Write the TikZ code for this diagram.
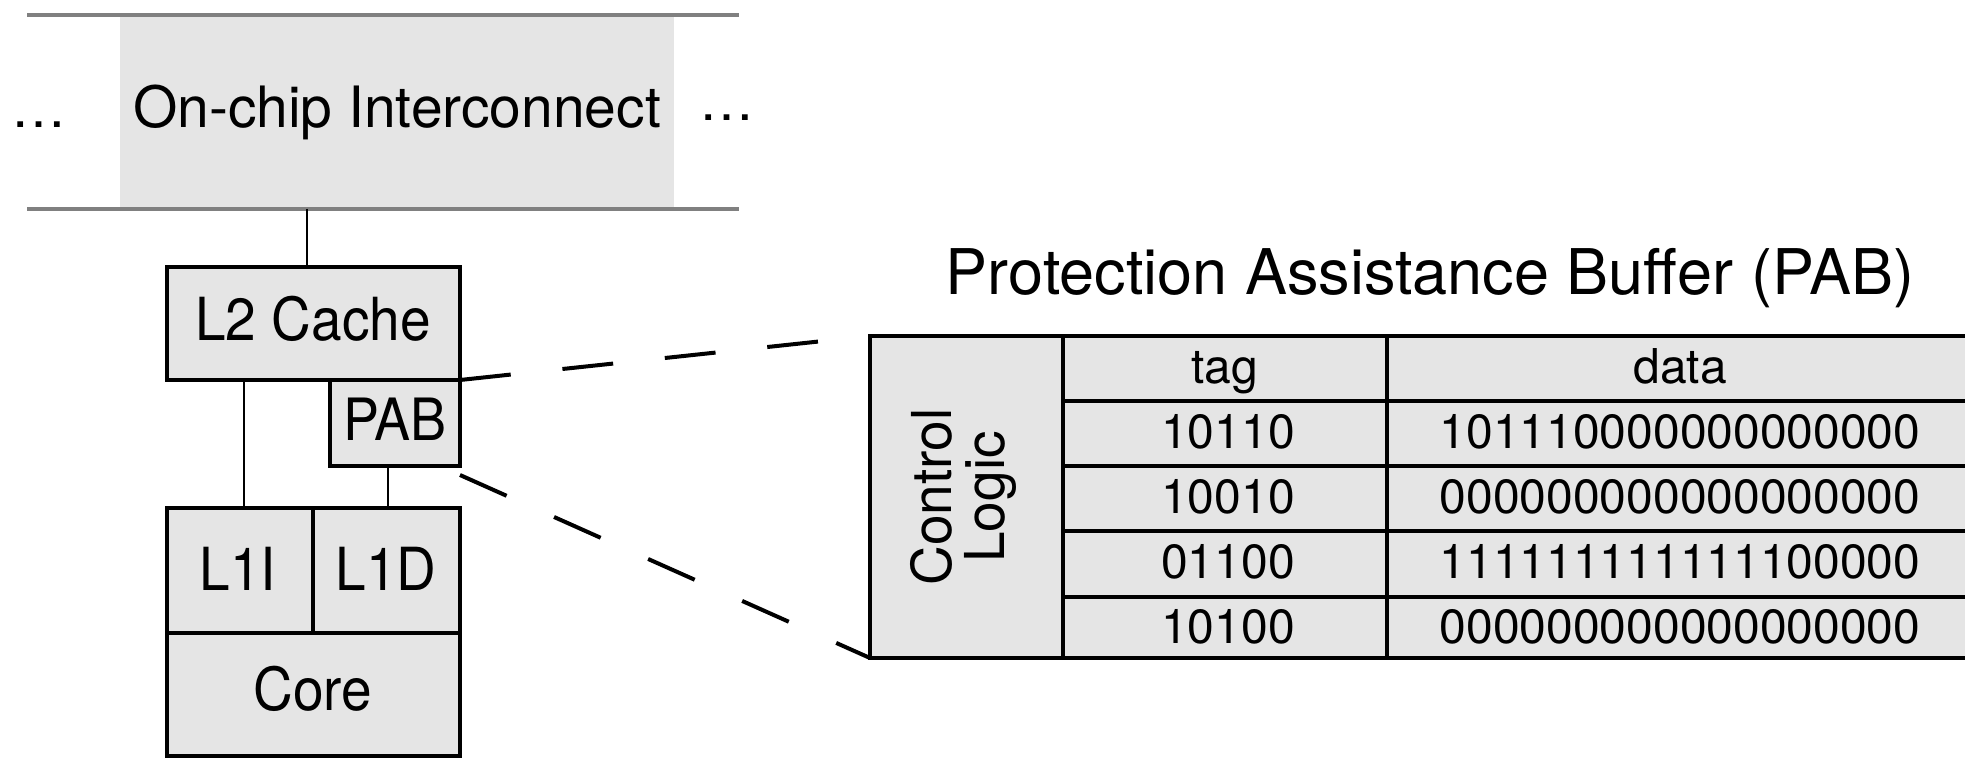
\documentclass[tikz,border=0pt]{standalone}
\usepackage{fontspec}
\setmainfont{TeX Gyre Heros}
\definecolor{boxgray}{gray}{0.9}
\definecolor{busgray}{gray}{0.5}
\tikzset{
  box/.style={draw=black, line width=4pt, fill=boxgray, inner sep=0pt, outer sep=0pt},
  lbl/.style={font=\fontsize{55}{60}\selectfont, anchor=base, inner sep=0pt},
  boxlbl/.style={lbl, yscale=1.08},
  tbltxt/.style={font=\fontsize{48}{52}\selectfont, anchor=base, inner sep=0pt},
  wire/.style={line width=1.8pt},
  tblline/.style={line width=4pt},
  zoomline/.style={line width=4pt, dash pattern=on 51pt off 52pt},
  bus/.style={line width=4pt, draw=busgray},
}
\begin{document}
\begin{tikzpicture}[x=1pt,y=-1pt]
\useasboundingbox (0,0) rectangle (1965,759);
\clip (0,0) rectangle (1965,759);

% on-chip interconnect
\fill[boxgray] (120,15) rectangle (674,209);
\coordinate (busTL) at (27,15);
\coordinate (busTR) at (739,15);
\coordinate (busBL) at (27,209);
\coordinate (busBR) at (739,209);
\coordinate (busdrop) at (307,209);
\draw[bus] (busTL) -- (busTR);
\draw[bus] (busBL) -- (busBR);
\node[lbl, font=\fontsize{57}{60}\selectfont] (ic) at (397,128) {On-chip Interconnect};
\node[lbl] (dotsL) at (39,128) {…};
\node[lbl] (dotsR) at (727,121) {…};

% L2 + PAB
\node[box, minimum width=293pt, minimum height=113pt] (l2) at (313.5,323.5) {};
\node[boxlbl] (l2t) at (313,340) {L2 Cache};
\node[box, minimum width=130pt, minimum height=86pt] (pab) at (395,423) {};
\node[boxlbl, font=\fontsize{54}{58}\selectfont] (pabt) at (395,440) {PAB};

% L1 + core
\node[box, minimum width=146pt, minimum height=125pt] (l1i) at (240,570.5) {};
\node[box, minimum width=147pt, minimum height=125pt] (l1d) at (386.5,570.5) {};
\node[box, minimum width=293pt, minimum height=123pt] (core) at (313.5,694.5) {};
\node[boxlbl] (l1it) at (238,590) {L1I};
\node[boxlbl] (l1dt) at (386,590) {L1D};
\node[boxlbl] (coret) at (313,710) {Core};

% connectors
\draw[wire] (busdrop) -- (busdrop |- l2.north);
\draw[wire] ([xshift=77pt]l2.south west) -- ([xshift=77pt]l1i.north west);
\draw[wire] ([xshift=-7pt]pab.south) -- ([xshift=-7pt]pab.south |- l1d.north);

% PAB table
\node[lbl, font=\fontsize{63}{66}\selectfont] (title) at (1430,295) {Protection Assistance Buffer (PAB)};
\node[box, minimum width=1130pt, minimum height=322pt] (tbl) at (1435,497) {};
\node[box, minimum width=193pt, minimum height=322pt] (ctrl) at (966.5,497) {};
\node[font=\fontsize{55}{53}\selectfont, rotate=90, align=center, inner sep=0pt] (ctrlt) at (963.5,497) {Control\\Logic};
\coordinate (colsplitT) at (1387,336);
\coordinate (colsplitB) at (1387,658);
\draw[tblline] (colsplitT) -- (colsplitB);
\foreach \yy/\nm in {401/r1,466/r2,531/r3,597/r4}{
  \coordinate (\nm L) at (1063,\yy);
  \coordinate (\nm R) at (2000,\yy);
  \draw[tblline] (\nm L) -- (\nm R);
}
\node[tbltxt] (hTag) at (1225,383) {tag};
\node[tbltxt] (hData) at (1680,383) {data};
\node[tbltxt] (t1) at (1228,448) {10110};
\node[tbltxt] (d1) at (1680,448) {101110000000000000};
\node[tbltxt] (t2) at (1228,513) {10010};
\node[tbltxt] (d2) at (1680,513) {000000000000000000};
\node[tbltxt] (t3) at (1228,578) {01100};
\node[tbltxt] (d3) at (1680,578) {111111111111100000};
\node[tbltxt] (t4) at (1228,643) {10100};
\node[tbltxt] (d4) at (1680,643) {000000000000000000};

% zoom lines
\draw[zoomline] (l2.south east) -- (tbl.north west);
\draw[zoomline] ([yshift=-9pt]pab.south east) -- (tbl.south west);
\end{tikzpicture}
\end{document}
